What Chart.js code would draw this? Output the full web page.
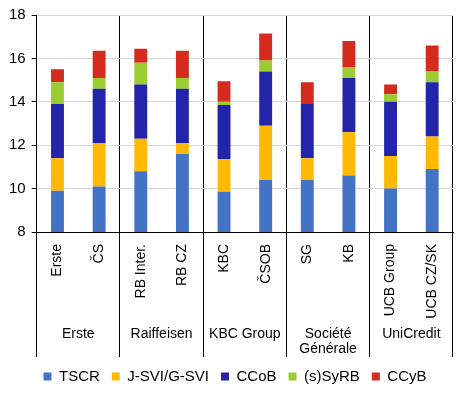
<!DOCTYPE html>
<html>
<head>
<meta charset="utf-8">
<script src="https://cdn.jsdelivr.net/npm/chart.js@4.4.0/dist/chart.umd.min.js"></script>
<style>
  html, body { margin: 0; padding: 0; background: #fff; }
  #wrap { width: 473px; height: 398px; }
</style>
</head>
<body>
<div id="wrap"><canvas id="myChart" width="473" height="398"></canvas></div>
<script>
var banks = ["Erste", "ČS", "RB Inter.", "RB CZ", "KBC", "ČSOB", "SG", "KB", "UCB Group", "UCB CZ/SK"];
var groups = ["Erste", "Raiffeisen", "KBC Group", ["Société", "Générale"], "UniCredit"];
var tscr = [9.9, 10.1, 10.8, 11.6, 9.85, 10.4, 10.4, 10.6, 10.0, 10.9];
var sviBuffer = [1.5, 2.0, 1.5, 0.5, 1.5, 2.5, 1.0, 2.0, 1.5, 1.5];
var ccob = [2.5, 2.5, 2.5, 2.5, 2.5, 2.5, 2.5, 2.5, 2.5, 2.5];
var syrb = [1.0, 0.5, 1.0, 0.5, 0.15, 0.5, 0, 0.5, 0.35, 0.5];
var ccyb = [0.6, 1.25, 0.65, 1.25, 0.95, 1.25, 1.0, 1.2, 0.45, 1.2];
var yTicks = [8, 10, 12, 14, 16, 18];

var font = 'Arial, "Liberation Sans", sans-serif';

// group names under the bank labels, legend nudged right a bit
var groupLabels = {
  id: 'groupLabels',
  afterLayout: function(chart) {
    chart.legend.left += 7;
    chart.legend.right += 7;
  },
  afterDraw: function(chart) {
    var ctx = chart.ctx, xs = chart.scales.x;
    ctx.save();
    ctx.font = '14px ' + font;
    ctx.fillStyle = '#000';
    ctx.textAlign = 'center';
    ctx.textBaseline = 'middle';
    groups.forEach(function(g, i) {
      var cx = (xs.getPixelForValue(i * 2) + xs.getPixelForValue(i * 2 + 1)) / 2;
      var lines = Array.isArray(g) ? g : [g];
      lines.forEach(function(t, k) {
        ctx.fillText(t, cx, xs.top + 102 + k * 15);
      });
    });
    ctx.restore();
  }
};

var ctx = document.getElementById("myChart").getContext('2d');
var myChart = new Chart(ctx, {
  type: 'bar',
  data: {
    labels: banks,
    datasets: [
      { label: "TSCR", data: tscr, backgroundColor: "#4472c4" },
      { label: "J-SVI/G-SVI", data: sviBuffer, backgroundColor: "#ffb900" },
      { label: "CCoB", data: ccob, backgroundColor: "#2324a9" },
      { label: "(s)SyRB", data: syrb, backgroundColor: "#9bcd32" },
      { label: "CCyB", data: ccyb, backgroundColor: "#d52b1e" }
    ]
  },
  options: {
    responsive: false,
    animation: false,
    layout: { padding: { top: 7, right: 20, left: 3, bottom: 4 } },
    datasets: { bar: { categoryPercentage: 1, barPercentage: 0.31 } },
    plugins: {
      tooltip: { enabled: false },
      legend: {
        position: 'bottom',
        labels: {
          boxWidth: 8, boxHeight: 8, padding: 12,
          color: '#000',
          font: { family: font, size: 15 }
        }
      }
    },
    scales: {
      x: {
        stacked: true,
        offset: true,
        border: { color: '#000' },
        grid: {
          offset: true,
          color: function(c) { return (c.index === undefined || c.index % 2 === 0) ? '#000' : 'rgba(0,0,0,0)'; },
          tickLength: 125
        },
        ticks: {
          autoSkip: false, minRotation: 90, maxRotation: 90,
          padding: -113,
          color: '#000',
          font: { family: font, size: 14 }
        },
        afterFit: function(s) { s.height = 125; }
      },
      y: {
        stacked: true,
        min: 8, max: 18,
        border: { color: '#000' },
        grid: { color: '#d9d9d9', tickColor: '#000', tickLength: 5 },
        afterBuildTicks: function(s) { s.ticks = yTicks.map(function(v) { return { value: v }; }); },
        ticks: {
          padding: 6,
          color: '#000',
          font: { family: font, size: 15 }
        }
      }
    }
  },
  plugins: [groupLabels]
});
</script>
</body>
</html>
